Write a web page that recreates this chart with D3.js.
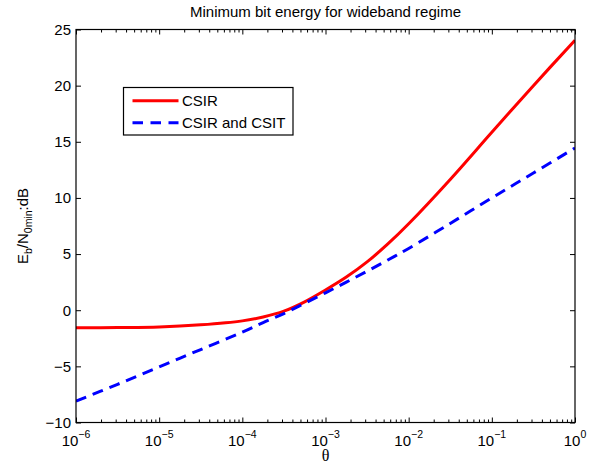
<!DOCTYPE html>
<html>
<head>
<meta charset="utf-8">
<script src="https://cdn.jsdelivr.net/npm/d3@7/dist/d3.min.js"></script>
<style>
  html, body { margin: 0; padding: 0; background: #fff; }
  svg { display: block; }
  text { font-family: "Liberation Sans", Arial, Helvetica, sans-serif; fill: #000; }
</style>
</head>
<body>
<div id="chart"></div>
<script>
// θ sample points (log-spaced) and minimum Eb/N0 (dB) for each scheme
const theta = [1e-6, 3.16e-6, 1e-5, 3.16e-5, 1e-4, 1.78e-4, 3.16e-4, 5.62e-4,
               1e-3, 1.78e-3, 3.16e-3, 5.62e-3, 1e-2, 3.16e-2, 1e-1, 3.16e-1, 1];
const csir = [-1.57, -1.55, -1.5, -1.3, -0.95, -0.6, -0.08, 0.75,
              1.8, 2.95, 4.3, 5.9, 7.7, 11.65, 15.85, 20.0, 24.05];
const csirCsit = [-8.1, -6.6, -5.05, -3.5, -1.95, -1.1, -0.3, 0.62,
                  1.55, 2.5, 3.47, 4.47, 5.5, 7.73, 10.0, 12.22, 14.45];

const seriesNames = ["CSIR", "CSIR and CSIT"];
const xTickExps = [-6, -5, -4, -3, -2, -1, 0];
const yTicks = [-10, -5, 0, 5, 10, 15, 20, 25];
const yDomain = [-10, 25];
const titleText = "Minimum bit energy for wideband regime";

const W = 595, H = 466;
const margin = { left: 76, right: 20, top: 29.5, bottom: 43.5 };
const x0 = margin.left, x1 = W - margin.right;
const y0 = margin.top, y1 = H - margin.bottom;

const svg = d3.select("#chart").append("svg")
  .attr("width", W).attr("height", H);
svg.append("rect").attr("width", W).attr("height", H).attr("fill", "#fff");

const x = d3.scaleLog().domain([1e-6, 1]).range([x0, x1]);
const y = d3.scaleLinear().domain(yDomain).range([y1, y0]);

// minor ticks: 2..9 × 10^k within each decade
const majorVals = xTickExps.map(e => Math.pow(10, e));
const minorVals = [];
xTickExps.slice(0, -1).forEach(e => {
  for (let m = 2; m <= 9; m++) minorVals.push(m * Math.pow(10, e));
});

const tickStroke = g => g.selectAll("line").attr("stroke", "#000").attr("stroke-width", 1);

// ticks pointing inward on all four sides
function addXTicks(axisFn, yPos, vals, len) {
  const g = svg.append("g").attr("transform", `translate(0,${yPos})`)
    .call(axisFn(x).tickValues(vals).tickSize(len).tickFormat(""));
  g.select(".domain").remove();
  tickStroke(g);
}
addXTicks(d3.axisBottom, y1, majorVals, -5);
addXTicks(d3.axisBottom, y1, minorVals, -3);
addXTicks(d3.axisTop, y0, majorVals, -5);
addXTicks(d3.axisTop, y0, minorVals, -3);

function addYTicks(axisFn, xPos) {
  const g = svg.append("g").attr("transform", `translate(${xPos},0)`)
    .call(axisFn(y).tickValues(yTicks).tickSize(-5).tickFormat(""));
  g.select(".domain").remove();
  tickStroke(g);
}
addYTicks(d3.axisLeft, x0);
addYTicks(d3.axisRight, x1);

// curves, clipped to the plot box
svg.append("clipPath").attr("id", "plotClip")
  .append("rect").attr("x", x0).attr("y", y0).attr("width", x1 - x0).attr("height", y1 - y0);

const line = d3.line()
  .x(d => x(d[0])).y(d => y(d[1]))
  .curve(d3.curveCatmullRom.alpha(0.5));

const plot = svg.append("g").attr("clip-path", "url(#plotClip)");
plot.append("path")
  .datum(theta.map((t, i) => [t, csir[i]]))
  .attr("d", line).attr("fill", "none")
  .attr("stroke", "#ff0000").attr("stroke-width", 3);
plot.append("path")
  .datum(theta.map((t, i) => [t, csirCsit[i]]))
  .attr("d", line).attr("fill", "none")
  .attr("stroke", "#0000ff").attr("stroke-width", 3)
  .attr("stroke-dasharray", "11,7");

// plot frame
svg.append("rect")
  .attr("x", x0).attr("y", y0).attr("width", x1 - x0).attr("height", y1 - y0)
  .attr("fill", "none").attr("stroke", "#000").attr("stroke-width", 1.2);

// y tick labels
svg.append("g").selectAll("text").data(yTicks).join("text")
  .attr("x", x0 - 5).attr("y", d => y(d)).attr("dy", "0.36em")
  .attr("text-anchor", "end").attr("font-size", 15)
  .text(d => d < 0 ? "\u2212" + Math.abs(d) : d);

// x tick labels: 10^k
const xl = svg.append("g").selectAll("text").data(xTickExps).join("text")
  .attr("x", d => x(Math.pow(10, d))).attr("y", y1 + 23)
  .attr("text-anchor", "middle").attr("font-size", 15);
xl.append("tspan").text("10");
xl.append("tspan").attr("dy", -8).attr("font-size", 10.5)
  .text(d => d < 0 ? "\u2212" + Math.abs(d) : d);

// title
svg.append("text").attr("x", (x0 + x1) / 2).attr("y", 17)
  .attr("text-anchor", "middle").attr("font-size", 15).text(titleText);

// x axis label
svg.append("text").attr("x", (x0 + x1) / 2).attr("y", 461)
  .attr("text-anchor", "middle").attr("font-size", 16)
  .style("font-family", "'Liberation Serif', 'Times New Roman', serif")
  .text("\u03b8");

// y axis label: E_b/N_0min:dB
const yl = svg.append("text")
  .attr("transform", `translate(27.5,${(y0 + y1) / 2}) rotate(-90)`)
  .attr("text-anchor", "middle").attr("font-size", 15);
yl.append("tspan").text("E");
yl.append("tspan").attr("dy", 4).attr("font-size", 10.5).text("b");
yl.append("tspan").attr("dy", -4).text("/N");
yl.append("tspan").attr("dy", 4).attr("font-size", 10.5).text("0min");
yl.append("tspan").attr("dy", -4).text(":dB");

// legend
const legend = svg.append("g");
legend.append("rect")
  .attr("x", 123.5).attr("y", 87.5).attr("width", 169.5).attr("height", 47.5)
  .attr("fill", "#fff").attr("stroke", "#000").attr("stroke-width", 1.2);
const legendStyles = [
  { color: "#ff0000", dash: null },
  { color: "#0000ff", dash: "10.5,7.5" }
];
seriesNames.forEach((name, i) => {
  const cy = 100.7 + i * 22;
  legend.append("line")
    .attr("x1", 132.5).attr("x2", 178.5).attr("y1", cy).attr("y2", cy)
    .attr("stroke", legendStyles[i].color).attr("stroke-width", 3)
    .attr("stroke-dasharray", legendStyles[i].dash);
  legend.append("text").attr("x", 182).attr("y", cy + 5.5)
    .attr("font-size", 15).text(name);
});
</script>
</body>
</html>
